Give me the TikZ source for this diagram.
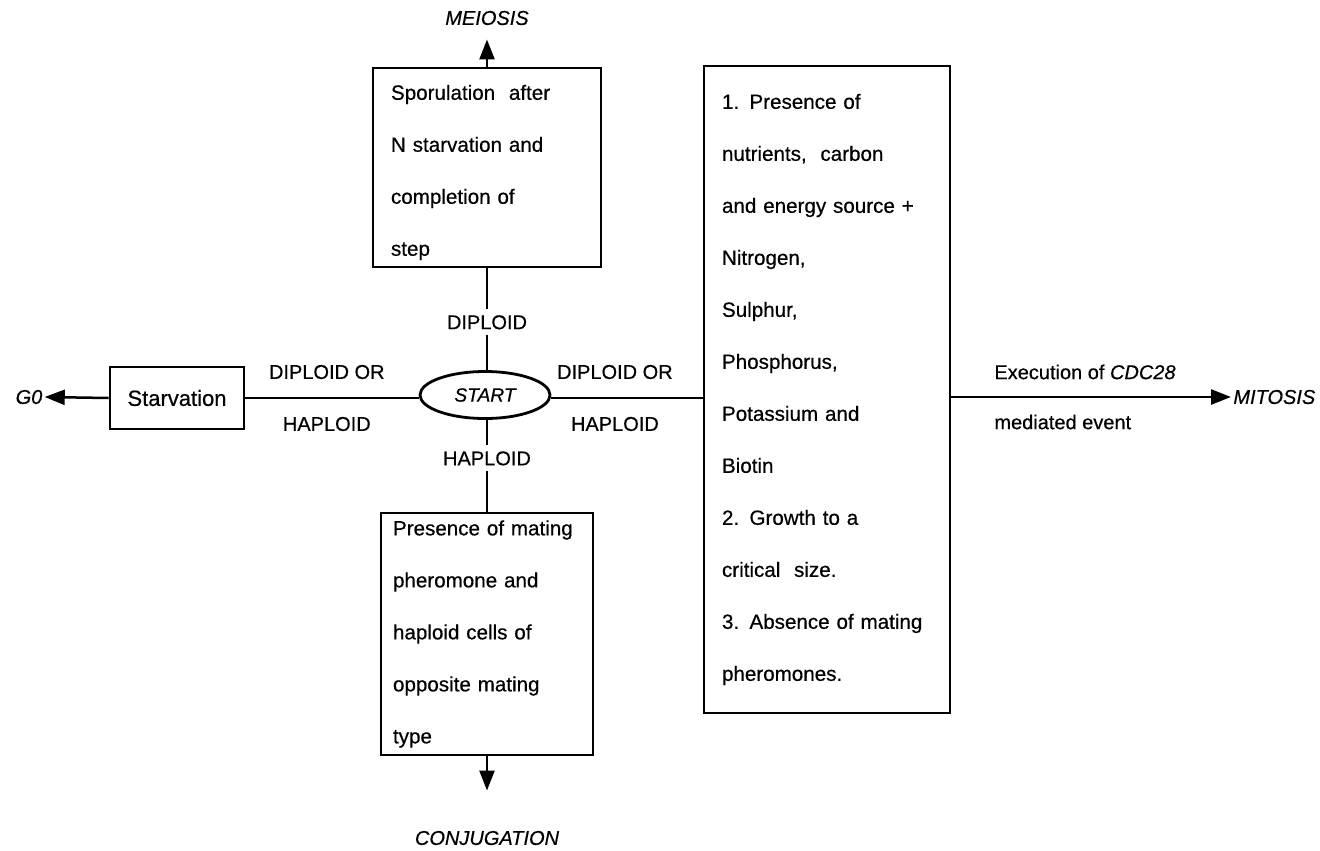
\documentclass[tikz,border=0pt]{standalone}
\usepackage{fontspec}
\setmainfont{Liberation Sans}[FakeBold=0.5]
\usetikzlibrary{arrows.meta,shapes.geometric,calc}
\begin{document}
\begin{tikzpicture}[x=0.5pt,y=-0.5pt,
  every node/.style={inner sep=1pt},
  conn/.style={line width=1.25pt},
  arr/.style={conn,-{Triangle[length=10pt,width=7.5pt]}},
  tbox/.style={draw,line width=1.4pt,rectangle,align=left,inner ysep=2pt,font=\fontsize{10.3}{26}\selectfont},
  lbl/.style={font=\fontsize{10}{12}\selectfont},
  vlbl/.style={lbl,fill=white,inner sep=3pt},
  outc/.style={font=\fontsize{10}{12}\selectfont\itshape}
]
\useasboundingbox (0,0) rectangle (1320,850);

% boxes
\node[tbox, minimum width=114pt, minimum height=99.5pt, text width=96pt, inner xsep=9pt] (spor) at (487,167.5)
  {\rule{0pt}{12.4pt}Sporulation\ \ after\\N starvation and\\completion of\\step};
\node[tbox, minimum width=123pt, minimum height=323.5pt, text width=105pt, inner xsep=9pt] (cond) at (827,389.5)
  {1. Presence of\\nutrients,\ \ carbon\\and energy source +\\Nitrogen,\\Sulphur,\\Phosphorus,\\Potassium and\\Biotin\\2. Growth to a\\critical\ \ size.\\3. Absence of mating\\pheromones.};
\node[tbox, minimum width=106pt, minimum height=121pt, text width=94pt, inner xsep=6pt] (mate) at (487,634)
  {Presence of mating\\pheromone and\\haploid cells of\\opposite mating\\type};
\node[draw, line width=1.4pt, minimum width=67pt, minimum height=31pt, font=\fontsize{11}{13}\selectfont] (starv) at (177,398) {Starvation};
\node[draw, ellipse, line width=1.4pt, minimum width=65pt, minimum height=23.5pt, inner sep=0pt, font=\fontsize{9.6}{12}\selectfont\itshape] (start) at (485,395) {START};

% outcomes
\node[outc] (meiosis) at (487,18) {MEIOSIS};
\node[outc] (conj) at (487,838) {CONJUGATION};
\node[outc] (g0) at (29,397) {G0};
\node[outc, anchor=west] (mitosis) at (1231,397) {MITOSIS};

% connectors
\draw[arr, shorten >=6pt] (spor.north) -- (meiosis.south);
\draw[arr, shorten >=19pt] (mate.south) -- (conj.north);
\draw[arr] (starv.west) -- (g0.east);
\draw[arr] (cond.east |- mitosis.west) -- (mitosis.west);

\draw[conn] (starv.east) -- node[lbl, pos=0.47, yshift=13pt] {DIPLOID OR} node[lbl, pos=0.47, yshift=-13pt] {HAPLOID} (starv.east -| start.west);
\draw[conn] (start.east |- starv.east) -- node[lbl, pos=0.42, yshift=13pt] {DIPLOID OR} node[lbl, pos=0.42, yshift=-13pt] {HAPLOID} (starv.east -| cond.west);

\draw[conn] (spor.south) -- node[vlbl, pos=0.53] {DIPLOID} (spor.south |- start.north);
\draw[conn] (spor.south |- start.south) -- node[vlbl, pos=0.42] {HAPLOID} (mate.north);

% edge labels on the mitosis arrow
\node[lbl, anchor=west] (exe) at (992,372) {Execution of \textit{CDC28}};
\node[lbl, anchor=west] (med) at (992,422) {mediated event};
\end{tikzpicture}
\end{document}
